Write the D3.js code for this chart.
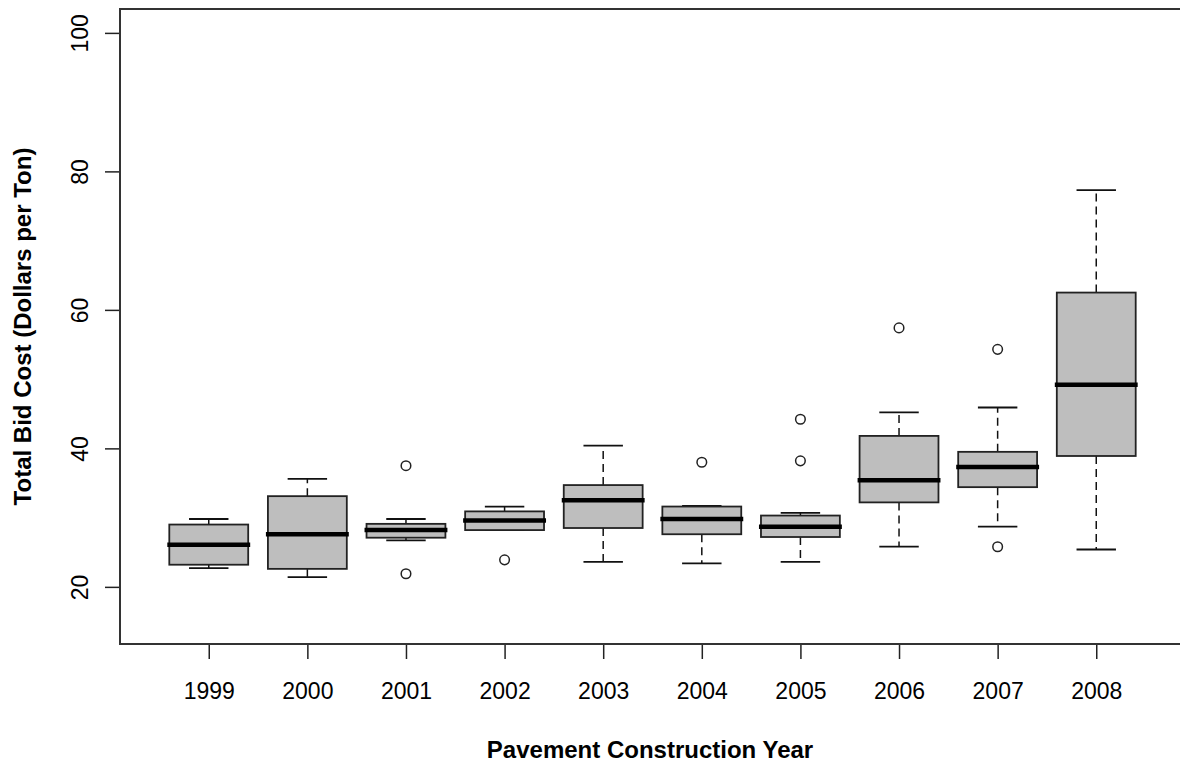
<!DOCTYPE html>
<html>
<head>
<meta charset="utf-8">
<script src="https://cdn.jsdelivr.net/npm/d3@7"></script>
<style>
  html, body { margin: 0; padding: 0; background: #fff; }
  svg text { font-family: "Liberation Sans", Arial, sans-serif; fill: #000; }
</style>
</head>
<body>
<div id="chart"></div>
<script>
const w = 1180;
const h = 763;

// box statistics per construction year
const years = ['1999', '2000', '2001', '2002', '2003', '2004', '2005', '2006', '2007', '2008'];
const lowerWhisker = [22.7, 21.4, 26.7, 28.2, 23.6, 23.4, 23.6, 25.8, 28.7, 25.4];
const q1 = [23.2, 22.6, 27.1, 28.2, 28.5, 27.6, 27.2, 32.2, 34.4, 38.9];
const medians = [26.1, 27.6, 28.2, 29.6, 32.5, 29.8, 28.7, 35.4, 37.3, 49.2];
const q3 = [29.0, 33.1, 29.1, 30.9, 34.7, 31.6, 30.3, 41.8, 39.5, 62.5];
const upperWhisker = [29.8, 35.6, 29.8, 31.6, 40.4, 31.7, 30.7, 45.2, 45.9, 77.3];
const outliers = [[], [], [37.5, 21.9], [23.9], [], [38.0], [44.2, 38.2], [57.4], [54.3, 25.8], []];
const yTicks = [20, 40, 60, 80, 100];

const plot = { left: 120, right: 1185, top: 9, bottom: 644 };

const boxes = years.map((yr, i) => ({
  year: yr,
  pos: i + 1,
  lo: lowerWhisker[i],
  q1: q1[i],
  med: medians[i],
  q3: q3[i],
  hi: upperWhisker[i],
  out: outliers[i]
}));

//scales
const xScale = d3.scaleLinear()
  .domain([0.1, 10.9])
  .range([plot.left, plot.right]);
const yScale = d3.scaleLinear()
  .domain([11.75, 103.45])
  .range([plot.bottom, plot.top]);

const halfBox = xScale(0.4) - xScale(0);
const halfStaple = halfBox / 2;

const svg = d3.select('#chart')
  .append('svg')
  .attr('width', w)
  .attr('height', h);

// whiskers (dashed)
const g = svg.selectAll('g.box')
  .data(boxes)
  .enter()
  .append('g')
  .attr('class', 'box');

g.append('line')
  .attr('x1', (d) => xScale(d.pos))
  .attr('x2', (d) => xScale(d.pos))
  .attr('y1', (d) => yScale(d.q3))
  .attr('y2', (d) => yScale(d.hi))
  .attr('stroke', '#111')
  .attr('stroke-width', 1.5)
  .attr('stroke-dasharray', '8 5');

g.append('line')
  .attr('x1', (d) => xScale(d.pos))
  .attr('x2', (d) => xScale(d.pos))
  .attr('y1', (d) => yScale(d.q1))
  .attr('y2', (d) => yScale(d.lo))
  .attr('stroke', '#111')
  .attr('stroke-width', 1.5)
  .attr('stroke-dasharray', '8 5');

// staples
g.append('line')
  .attr('x1', (d) => xScale(d.pos) - halfStaple)
  .attr('x2', (d) => xScale(d.pos) + halfStaple)
  .attr('y1', (d) => yScale(d.hi))
  .attr('y2', (d) => yScale(d.hi))
  .attr('stroke', '#111')
  .attr('stroke-width', 1.8);

g.append('line')
  .attr('x1', (d) => xScale(d.pos) - halfStaple)
  .attr('x2', (d) => xScale(d.pos) + halfStaple)
  .attr('y1', (d) => yScale(d.lo))
  .attr('y2', (d) => yScale(d.lo))
  .attr('stroke', '#111')
  .attr('stroke-width', 1.8);

// boxes
g.append('rect')
  .attr('x', (d) => xScale(d.pos) - halfBox)
  .attr('width', halfBox * 2)
  .attr('y', (d) => yScale(d.q3))
  .attr('height', (d) => yScale(d.q1) - yScale(d.q3))
  .attr('fill', '#bebebe')
  .attr('stroke', '#222')
  .attr('stroke-width', 1.8);

// medians
g.append('line')
  .attr('x1', (d) => xScale(d.pos) - halfBox - 2)
  .attr('x2', (d) => xScale(d.pos) + halfBox + 2)
  .attr('y1', (d) => yScale(d.med))
  .attr('y2', (d) => yScale(d.med))
  .attr('stroke', '#000')
  .attr('stroke-width', 4.5);

// outliers
g.selectAll('circle')
  .data((d) => d.out.map((v) => ({ pos: d.pos, v: v })))
  .enter()
  .append('circle')
  .attr('cx', (d) => xScale(d.pos))
  .attr('cy', (d) => yScale(d.v))
  .attr('r', 4.8)
  .attr('fill', 'none')
  .attr('stroke', '#222')
  .attr('stroke-width', 1.5);

//x-axis
const xAxis = svg.append('g')
  .attr('transform', 'translate(0,' + plot.bottom + ')')
  .call(d3.axisBottom(xScale)
    .tickValues(d3.range(1, years.length + 1))
    .tickFormat((d) => years[d - 1])
    .tickSize(15)
    .tickPadding(24));
xAxis.select('.domain').remove();
xAxis.selectAll('line').attr('stroke', '#222').attr('stroke-width', 1.5);
xAxis.selectAll('text')
  .style('font-size', '23px')
  .style('font-family', '"Liberation Sans", Arial, sans-serif');

//y-axis
const yAxis = svg.append('g')
  .attr('transform', 'translate(' + plot.left + ',0)')
  .call(d3.axisLeft(yScale)
    .tickValues(yTicks)
    .tickSize(15));
yAxis.select('.domain').remove();
yAxis.selectAll('line').attr('stroke', '#222').attr('stroke-width', 1.5);
yAxis.selectAll('text')
  .attr('x', 0)
  .attr('y', -40)
  .attr('dy', '0.36em')
  .attr('text-anchor', 'middle')
  .attr('transform', 'rotate(-90)')
  .style('font-size', '23px')
  .style('font-family', '"Liberation Sans", Arial, sans-serif');

// plot frame
svg.append('rect')
  .attr('x', plot.left)
  .attr('y', plot.top)
  .attr('width', plot.right - plot.left)
  .attr('height', plot.bottom - plot.top)
  .attr('fill', 'none')
  .attr('stroke', '#333')
  .attr('stroke-width', 2);

//x-axis label
svg.append('text')
  .attr('x', 650)
  .attr('y', 758)
  .attr('text-anchor', 'middle')
  .style('font-size', '24px')
  .style('font-weight', 'bold')
  .text('Pavement Construction Year');

//y-axis label
svg.append('text')
  .attr('text-anchor', 'middle')
  .attr('transform', 'translate(31,' + (plot.top + plot.bottom) / 2 + ')rotate(-90)')
  .style('font-size', '24px')
  .style('font-weight', 'bold')
  .text('Total Bid Cost (Dollars per Ton)');
</script>
</body>
</html>
